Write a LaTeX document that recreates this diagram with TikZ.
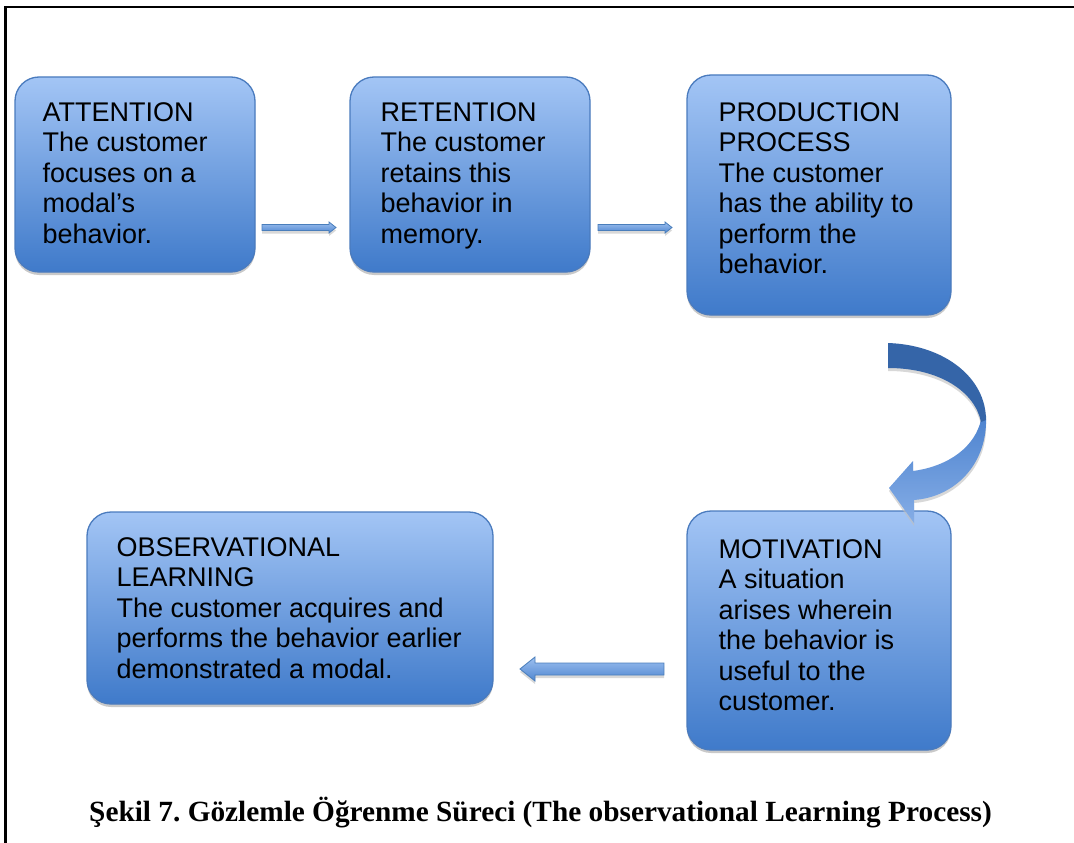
\documentclass[tikz,border=0pt]{standalone}
\usepackage{fontspec}
\setmainfont{Liberation Sans}
\newfontfamily\capfont{Liberation Serif}
\usetikzlibrary{shadows}
\frenchspacing

\definecolor{boxtop}{HTML}{A3C5F5}
\definecolor{boxbot}{HTML}{3F7ACA}
\definecolor{boxline}{HTML}{4A7BBE}
\definecolor{arrtop}{HTML}{9DC0F0}
\definecolor{arrbot}{HTML}{4F86D0}
\definecolor{arrline}{HTML}{4A7EBB}
\definecolor{curvedark}{HTML}{3565A8}
\definecolor{curvelighta}{HTML}{4D83CF}
\definecolor{curvelightb}{HTML}{85ADE6}

\tikzset{
  stagebox/.style={draw=boxline, line width=1.3pt, rounded corners=24pt,
    top color=boxtop, bottom color=boxbot,
    drop shadow={shadow xshift=0pt, shadow yshift=-3pt, fill=black!35, opacity=0.6}},
  stagetext/.style={anchor=north west, inner sep=0pt, align=left,
    font=\fontsize{27}{30.4}\selectfont},
  blockarrow/.style={draw=arrline, line width=0.8pt, top color=arrtop, bottom color=arrbot,
    drop shadow={shadow xshift=0pt, shadow yshift=-3pt, fill=black!30, opacity=0.5}},
}

\begin{document}
\begin{tikzpicture}[x=1pt,y=-1pt]
\useasboundingbox (0,0) rectangle (1074,843);
\fill[white] (0,0) rectangle (1074,843);

% frame
\draw[line width=2.5pt] (5.5,843) -- (5.5,7) -- (1074,7);

% stage boxes
\node[stagebox, minimum width=240pt, minimum height=195pt] (att) at (135,174.5) {};
\node[stagebox, minimum width=240pt, minimum height=195pt] (ret) at (470,174.5) {};
\node[stagebox, minimum width=264pt, minimum height=240pt] (prod) at (819,195) {};
\node[stagebox, minimum width=264pt, minimum height=239pt] (mot) at (819,630.5) {};
\node[stagebox, minimum width=406pt, minimum height=192pt] (obs) at (290,608) {};

% stage texts
\node[stagetext] (attT) at ([shift={(28,26)}]att.north west)
  {ATTENTION\\The customer\\focuses on a\\modal’s\\behavior.};
\node[stagetext] (retT) at ([shift={(31,26)}]ret.north west)
  {RETENTION\\The customer\\retains this\\behavior in\\memory.};
\node[stagetext] (prodT) at ([shift={(32,28)}]prod.north west)
  {PRODUCTION\\PROCESS\\The customer\\has the ability to\\perform the\\behavior.};
\node[stagetext] (motT) at ([shift={(32,29)}]mot.north west)
  {MOTIVATION\\A situation\\arises wherein\\the behavior is\\useful to the\\customer.};
\node[stagetext] (obsT) at ([shift={(30,26)}]obs.north west)
  {OBSERVATIONAL\\LEARNING\\The customer acquires and\\performs the behavior earlier\\demonstrated a modal.};

% straight block arrows
\path[blockarrow] (262,224.5) -- (329,224.5) -- (329,222) -- (336,227.5) -- (329,233) -- (329,230.5) -- (262,230.5) -- cycle;
\path[blockarrow] (598,224.5) -- (665,224.5) -- (665,222) -- (672,227.5) -- (665,233) -- (665,230.5) -- (598,230.5) -- cycle;
\path[blockarrow] (664,663) -- (535,663) -- (535,657) -- (520,669) -- (535,681) -- (535,675) -- (664,675) -- cycle;

% curved arrow from production to motivation
\fill[black!25, opacity=0.6, shift={(0,3)}]
  (888,343) .. controls (945,345) and (986,378) .. (986,420)
  .. controls (988,464) and (955,497) .. (914,500) -- (914,523) -- (889,488) -- (913,461)
  -- (913,471) .. controls (950,466) and (975,446) .. (981,422)
  .. controls (975,392) and (940,368) .. (888,368) -- cycle;
\shade[top color=curvelighta, bottom color=curvelightb]
  (986,416) .. controls (988,464) and (955,497) .. (914,500) -- (914,523) -- (889,488) -- (913,461)
  -- (913,471) .. controls (950,466) and (975,446) .. (981,420) -- cycle;
\fill[curvedark]
  (888,343) .. controls (945,345) and (986,378) .. (986,420)
  -- (981,422) .. controls (975,392) and (940,368) .. (888,368) -- cycle;

% caption
\node[inner sep=0pt, anchor=base] (cap) at (540.5,821)
  {\capfont\bfseries\fontsize{29.3}{32}\selectfont Şekil 7. Gözlemle Öğrenme Süreci (The observational Learning Process)};
\end{tikzpicture}
\end{document}
